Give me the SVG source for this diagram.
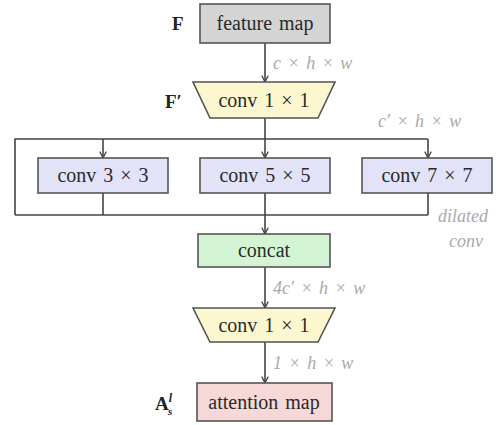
<svg xmlns="http://www.w3.org/2000/svg" width="496" height="425" viewBox="0 0 496 425">
  <defs>
    <style>
      .box { stroke: #555555; stroke-width: 1.6; }
      text { font-family: 'Liberation Serif', 'Times New Roman', 'DejaVu Serif', serif; }
      .lbl { font-size: 20px; fill: #2a2a2a; text-anchor: middle; word-spacing: 2px; }
      .dim { font-size: 18px; font-style: italic; fill: #aaaaaa; word-spacing: 2px; }
      .sym { font-size: 19px; font-weight: bold; fill: #222222; }
      .wire { stroke: #444444; stroke-width: 1.6; fill: none; }
    </style>
    <marker id="arrow" viewBox="0 0 10 10" refX="9" refY="5" markerWidth="8" markerHeight="8" markerUnits="userSpaceOnUse" orient="auto">
      <path d="M1,1 L9,5 L1,9" fill="none" stroke="#444444" stroke-width="1.6"/>
    </marker>
  </defs>
  <rect width="496" height="425" fill="#ffffff"/>

  <!-- connectors -->
  <g id="connectors">
    <line class="wire" x1="265" y1="43" x2="265" y2="82" marker-end="url(#arrow)"/>
    <line class="wire" x1="265" y1="118" x2="265" y2="139"/>
    <polyline class="wire" points="15,215 15,139 428,139"/>
    <line class="wire" x1="103" y1="139" x2="103" y2="158" marker-end="url(#arrow)"/>
    <line class="wire" x1="265" y1="139" x2="265" y2="158" marker-end="url(#arrow)"/>
    <line class="wire" x1="428" y1="139" x2="428" y2="158" marker-end="url(#arrow)"/>
    <line class="wire" x1="103" y1="193" x2="103" y2="215"/>
    <line class="wire" x1="265" y1="193" x2="265" y2="215"/>
    <line class="wire" x1="428" y1="193" x2="428" y2="215"/>
    <line class="wire" x1="15" y1="215" x2="428" y2="215"/>
    <line class="wire" x1="265" y1="215" x2="265" y2="234" marker-end="url(#arrow)"/>
    <line class="wire" x1="265" y1="267" x2="265" y2="308" marker-end="url(#arrow)"/>
    <line class="wire" x1="265" y1="342" x2="265" y2="383" marker-end="url(#arrow)"/>
  </g>

  <!-- dimension annotations -->
  <text class="dim" x="273" y="69">c × h × w</text>
  <text class="dim" x="378" y="127">c′ × h × w</text>
  <text class="dim" x="438" y="222">dilated</text>
  <text class="dim" x="449" y="247">conv</text>
  <text class="dim" x="273" y="294">4c′ × h × w</text>
  <text class="dim" x="273" y="369">1 × h × w</text>

  <g id="feature-map">
    <rect class="box" x="200" y="4" width="130" height="39" fill="#d4d4d4"/>
    <text class="lbl" x="265" y="30">feature map</text>
    <text class="sym" x="172" y="30">F</text>
  </g>

  <g id="conv1x1-reduce">
    <polygon class="box" points="193,82 335,82 318,118 210,118" fill="#fcf7cf"/>
    <text class="lbl" x="264" y="107">conv 1 × 1</text>
    <text class="sym" x="165" y="108">F′</text>
  </g>

  <g id="conv3x3">
    <rect class="box" x="38" y="158" width="130" height="35" fill="#e2e2f8"/>
    <text class="lbl" x="103" y="182">conv 3 × 3</text>
  </g>

  <g id="conv5x5">
    <rect class="box" x="200" y="158" width="130" height="35" fill="#e2e2f8"/>
    <text class="lbl" x="265" y="182">conv 5 × 5</text>
  </g>

  <g id="conv7x7">
    <rect class="box" x="362" y="158" width="130" height="35" fill="#e2e2f8"/>
    <text class="lbl" x="427" y="182">conv 7 × 7</text>
  </g>

  <g id="concat">
    <rect class="box" x="198" y="234" width="132" height="33" fill="#d3f5d3"/>
    <text class="lbl" x="264" y="257">concat</text>
  </g>

  <g id="conv1x1-out">
    <polygon class="box" points="193,308 335,308 318,342 210,342" fill="#fcf7cf"/>
    <text class="lbl" x="264" y="332">conv 1 × 1</text>
  </g>

  <g id="attention-map">
    <rect class="box" x="197" y="383" width="135" height="38" fill="#f6d8d8"/>
    <text class="lbl" x="264" y="409">attention map</text>
    <text class="sym" x="155" y="410">A<tspan font-size="12" dy="-8" font-style="italic">l</tspan><tspan font-size="11" dx="-4" dy="13" font-style="italic">s</tspan></text>
  </g>
</svg>
